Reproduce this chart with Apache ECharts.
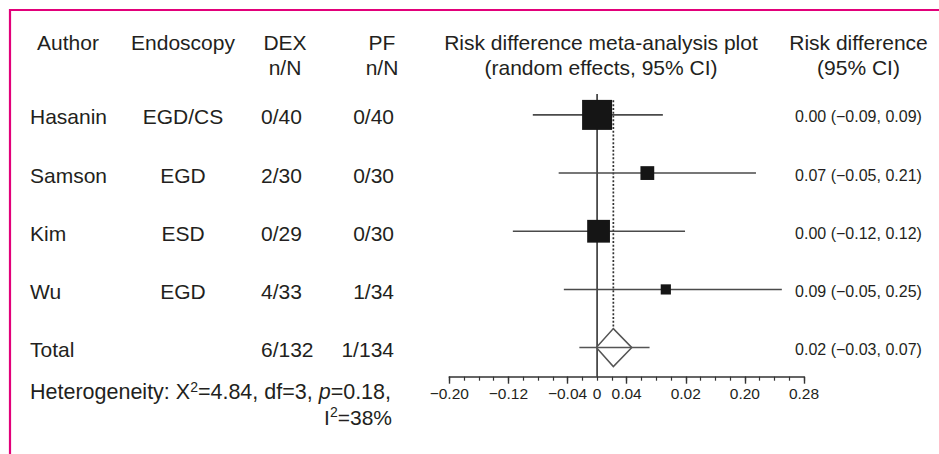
<!DOCTYPE html>
<html>
<head>
<meta charset="utf-8">
<script src="https://cdn.jsdelivr.net/npm/echarts@6/dist/echarts.min.js"></script>
<style>
html,body{margin:0;padding:0;background:#fff;}
#chart{width:939px;height:454px;}
</style>
</head>
<body>
<div id="chart"></div>
<script>
// ---------------- data ----------------
const authors   = ['Hasanin', 'Samson', 'Kim', 'Wu'];
const endoscopy = ['EGD/CS', 'EGD', 'ESD', 'EGD'];
const dexCounts = ['0/40', '2/30', '0/29', '4/33'];
const pfCounts  = ['0/40', '0/30', '0/30', '1/34'];
const rdEst     = [0.000, 0.068, 0.002, 0.093];
const rdLow     = [-0.087, -0.052, -0.114, -0.045];
const rdHigh    = [0.089, 0.215, 0.119, 0.250];
const weights   = [52, 11, 30, 6];
const rdTexts   = ['0.00 (\u22120.09, 0.09)', '0.07 (\u22120.05, 0.21)', '0.00 (\u22120.12, 0.12)', '0.09 (\u22120.05, 0.25)'];

const totalLabel = 'Total';
const totalDex   = '6/132';
const totalPf    = '1/134';
const pooledEst      = 0.022;
const pooledDiamLow  = -0.001;
const pooledDiamHigh = 0.047;
const pooledCiLow    = -0.024;
const pooledCiHigh   = 0.071;
const pooledText     = '0.02 (\u22120.03, 0.07)';

const headerCols = ['Author', 'Endoscopy', 'DEX\nn/N', 'PF\nn/N', 'Risk difference meta-analysis plot\n(random effects, 95% CI)', 'Risk difference\n(95% CI)'];

const axisMin = -0.20;
const axisMax = 0.28;
const majorTicks = [-0.20, -0.12, -0.04, 0.04, 0.12, 0.20, 0.28];
const tickValues = [-0.20, -0.12, -0.04, 0, 0.04, 0.12, 0.20, 0.28];
const tickLabels = ['\u22120.20', '\u22120.12', '\u22120.04', '0', '0.04', '0.02', '0.20', '0.28'];

// ---------------- layout / style ----------------
const FONT = '"Liberation Sans", Arial, Helvetica, sans-serif';
const TXT = '#231f20';
const COL = { author: 30, endo: 183, dex: 261, pf: 394, rd: 858.5 };
const HEAD_X = [68, 183, 285, 382, 601, 858.5];
const HEAD_Y1 = 42.5, HEAD_LH = 24.5;
const ROW_TEXT_DY = 2;
const BOX_SCALE = 30 / Math.sqrt(52);
const DIAM_HALF = 19;
const PINK = '#e2007a';

function txt(text, x, y, size, align, extra) {
  return Object.assign({
    type: 'text',
    style: {
      text: text, x: x, y: y, fill: TXT,
      fontSize: size, fontFamily: FONT,
      align: align, textAlign: align,
      verticalAlign: 'middle', textVerticalAlign: 'middle'
    }
  }, extra || {});
}

const graphics = [];
// border
graphics.push({
  type: 'polyline',
  shape: { points: [[10, 454], [10, 10], [939, 10]] },
  style: { stroke: PINK, lineWidth: 2.2, fill: null }
});
// headers
headerCols.forEach((h, i) => {
  h.split('\n').forEach((line, k) => {
    graphics.push(txt(line, HEAD_X[i], HEAD_Y1 + k * HEAD_LH, 21, 'center'));
  });
});
// heterogeneity
const richStyles = {
  sup: { fontSize: 14, fontFamily: FONT, fill: TXT, verticalAlign: 'top', lineHeight: 15 },
  it: { fontSize: 21.5, fontFamily: FONT, fill: TXT, fontStyle: 'italic', lineHeight: 24 }
};
graphics.push({
  type: 'text',
  style: {
    text: 'Heterogeneity: X{sup|2}=4.84, df=3, {it|p}=0.18,',
    x: 30, y: 392, fill: TXT, fontSize: 21.5, fontFamily: FONT, lineHeight: 24,
    align: 'left', textAlign: 'left', verticalAlign: 'middle', textVerticalAlign: 'middle',
    rich: richStyles
  }
});
graphics.push({
  type: 'text',
  style: {
    text: 'I{sup|2}=38%',
    x: 392, y: 417, fill: TXT, fontSize: 21, fontFamily: FONT, lineHeight: 24,
    align: 'right', textAlign: 'right', verticalAlign: 'middle', textVerticalAlign: 'middle',
    rich: richStyles
  }
});

// table rows: studies + total
const tableRows = authors.map((a, i) => [i, a, endoscopy[i], dexCounts[i], pfCounts[i], rdTexts[i]]);
tableRows.push([authors.length, totalLabel, '', totalDex, totalPf, pooledText]);

const chart = echarts.init(document.getElementById('chart'), null, { renderer: 'svg' });

chart.setOption({
  backgroundColor: '#fff',
  animation: false,
  grid: { left: 449.3, top: 85.8, width: 354.7, height: 290.9, containLabel: false },
  xAxis: [
    {
      type: 'value', min: axisMin, max: axisMax, position: 'bottom',
      axisLine: { show: true, onZero: false, lineStyle: { color: '#333', width: 1.6 } },
      axisTick: { show: true, customValues: majorTicks, length: 7, lineStyle: { color: '#333', width: 1.4 } },
      axisLabel: {
        show: true, customValues: tickValues, margin: 9,
        fontSize: 15.5, fontFamily: FONT, color: TXT,
        formatter: function (v) {
          let best = 0, bd = Infinity;
          tickValues.forEach((t, i) => { const d = Math.abs(t - v); if (d < bd) { bd = d; best = i; } });
          return tickLabels[best];
        }
      },
      splitLine: { show: false }
    },
    {
      type: 'value', min: axisMin, max: axisMax, interval: 0.02, position: 'bottom',
      axisLine: { show: false, onZero: false },
      axisTick: { show: true, length: 4, lineStyle: { color: '#333', width: 1.2 } },
      axisLabel: { show: false },
      splitLine: { show: false }
    }
  ],
  yAxis: {
    type: 'value', min: -0.5, max: 4.5, inverse: true, show: false
  },
  graphic: { elements: graphics },
  series: [
    // reference lines: zero line and pooled estimate (dotted)
    {
      type: 'custom', xAxisIndex: 0, yAxisIndex: 0, clip: false, silent: true,
      data: [[0, pooledEst, authors.length]],
      encode: { x: 0, y: 2 },
      renderItem: function (params, api) {
        const lastRow = api.value(2);
        const z0 = api.coord([api.value(0), -0.36]);
        const z1 = api.coord([api.value(0), 4.5]);
        const p0 = api.coord([api.value(1), -0.25]);
        const p1 = api.coord([api.value(1), lastRow]);
        return {
          type: 'group', children: [
            { type: 'line', shape: { x1: z0[0], y1: z0[1], x2: z1[0], y2: z1[1] }, style: { stroke: '#333', lineWidth: 1.6 } },
            { type: 'line', shape: { x1: p0[0], y1: p0[1], x2: p1[0], y2: p1[1] - DIAM_HALF }, style: { stroke: '#333', lineWidth: 1.7, lineDash: [2, 1.8] } }
          ]
        };
      }
    },
    // study CIs and boxes
    {
      type: 'custom', xAxisIndex: 0, yAxisIndex: 0, clip: false, silent: true,
      data: authors.map((a, i) => [rdEst[i], rdLow[i], rdHigh[i], weights[i], i]),
      encode: { x: 0, y: 4 },
      renderItem: function (params, api) {
        const row = api.value(4);
        const c = api.coord([api.value(0), row]);
        const l = api.coord([api.value(1), row]);
        const h = api.coord([api.value(2), row]);
        const side = BOX_SCALE * Math.sqrt(api.value(3));
        return {
          type: 'group', children: [
            { type: 'line', shape: { x1: l[0], y1: l[1], x2: h[0], y2: h[1] }, style: { stroke: '#4a4a4a', lineWidth: 1.6 } },
            { type: 'rect', shape: { x: c[0] - side / 2, y: c[1] - side / 2, width: side, height: side }, style: { fill: '#151515' } }
          ]
        };
      }
    },
    // pooled diamond
    {
      type: 'custom', xAxisIndex: 0, yAxisIndex: 0, clip: false, silent: true,
      data: [[pooledEst, pooledDiamLow, pooledDiamHigh, pooledCiLow, pooledCiHigh, authors.length]],
      encode: { x: 0, y: 5 },
      renderItem: function (params, api) {
        const row = api.value(5);
        const c = api.coord([api.value(0), row]);
        const dl = api.coord([api.value(1), row]);
        const dh = api.coord([api.value(2), row]);
        const cl = api.coord([api.value(3), row]);
        const ch = api.coord([api.value(4), row]);
        return {
          type: 'group', children: [
            { type: 'polygon', shape: { points: [[dl[0], c[1]], [c[0], c[1] - DIAM_HALF], [dh[0], c[1]], [c[0], c[1] + DIAM_HALF]] }, style: { stroke: '#555', lineWidth: 1.5, fill: null } },
            { type: 'line', shape: { x1: cl[0], y1: cl[1], x2: ch[0], y2: ch[1] }, style: { stroke: '#555', lineWidth: 1.5 } }
          ]
        };
      }
    },
    // table text
    {
      type: 'custom', xAxisIndex: 0, yAxisIndex: 0, clip: false, silent: true,
      data: tableRows,
      encode: { y: 0 },
      renderItem: function (params, api) {
        const r = tableRows[params.dataIndex];
        const y = api.coord([0, r[0]])[1] + ROW_TEXT_DY;
        return {
          type: 'group', children: [
            txt(r[1], COL.author, y, 21, 'left'),
            txt(r[2], COL.endo, y, 21, 'center'),
            txt(r[3], COL.dex, y, 21, 'left'),
            txt(r[4], COL.pf, y, 21, 'right'),
            txt(r[5], COL.rd, y, 16, 'center')
          ]
        };
      }
    }
  ]
});
</script>
</body>
</html>
